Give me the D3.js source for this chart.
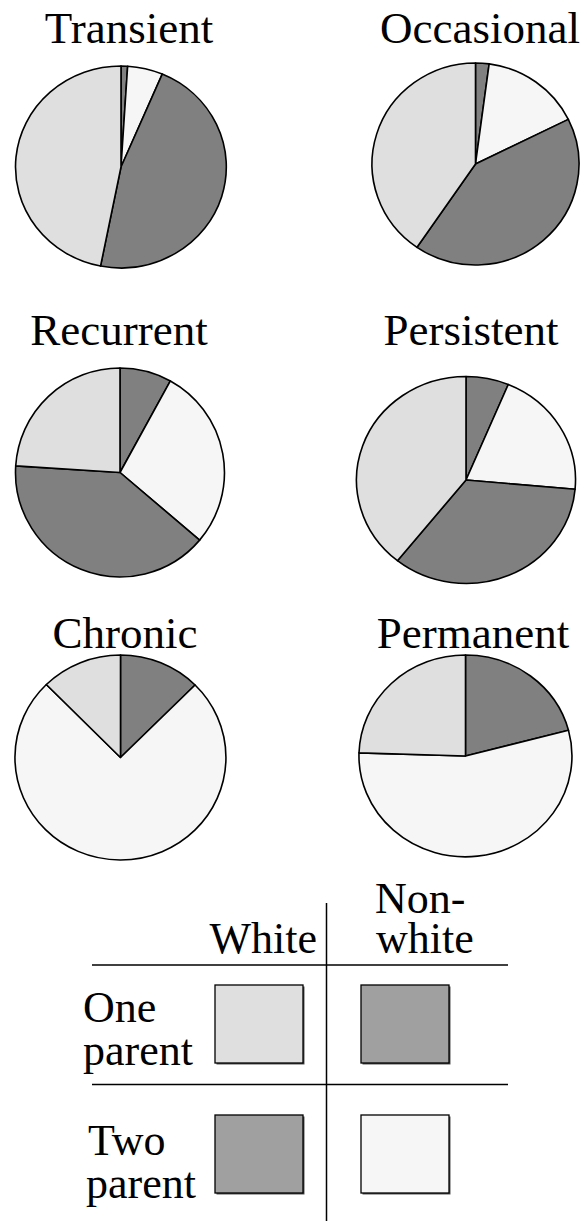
<!DOCTYPE html>
<html><head><meta charset="utf-8">
<script src="https://cdn.jsdelivr.net/npm/d3@7"></script>
</head><body style="margin:0">
<svg id="c" width="587" height="1221"></svg>
<script>
// Data (percent of each group, clockwise from 12 o'clock)
const categories = ["Transient", "Occasional", "Recurrent", "Persistent", "Chronic", "Permanent"];
const oneParentNonwhite = [1.0, 2.1, 8.0, 6.3, 12.5, 20.9];
const twoParentNonwhite = [5.4, 15.6, 28.2, 20.1, 75.1, 54.6];
const twoParentWhite    = [46.7, 41.8, 39.8, 34.3, 0, 0];
const oneParentWhite    = [46.9, 40.4, 24.0, 39.2, 12.4, 24.5];
const seriesNames = ["One parent Non-white", "Two parent Non-white", "Two parent White", "One parent White"];
const legendRows = ["One parent", "Two parent"];
const legendCols = ["White", "Non-white"];

// Layout (not data)
const layout = [
  {cx:121, cy:167, rx:105.5, ry:101, tx:129, ty:43},
  {cx:475.5, cy:164, rx:103.5, ry:101, tx:480, ty:43},
  {cx:120, cy:472.5, rx:104.5, ry:104.5, tx:119, ty:345},
  {cx:466, cy:480, rx:109.5, ry:103.5, tx:471, ty:345},
  {cx:120.5, cy:757.5, rx:105.5, ry:102.5, tx:125, ty:648},
  {cx:465.5, cy:756, rx:106.5, ry:101, tx:473, ty:648}
];
const pieColors = {"One parent Non-white":"#808080","Two parent Non-white":"#f6f6f6","Two parent White":"#808080","One parent White":"#dfdfdf"};
const legendColors = {"One parent|White":"#dfdfdf","One parent|Non-white":"#a0a0a0","Two parent|White":"#a0a0a0","Two parent|Non-white":"#f6f6f6"};
const font = "Liberation Serif";

const svg = d3.select("#c");
svg.append("rect").attr("width", 587).attr("height", 1221).attr("fill", "#fff");
const pie = d3.pie().sort(null).value(d => d.v);
const arc = d3.arc().innerRadius(0).outerRadius(1);

function label(sel, t, x, y, size, anchor) {
  return sel.append("text").attr("x", x).attr("y", y)
    .attr("text-anchor", anchor || "start")
    .style("font-family", font).attr("font-size", size).text(t);
}

categories.forEach((cat, i) => {
  const L = layout[i];
  const vals = [oneParentNonwhite[i], twoParentNonwhite[i], twoParentWhite[i], oneParentWhite[i]]
    .map((v, k) => ({name: seriesNames[k], v}));
  const arcs = pie(vals).filter(a => a.data.v > 0);
  const g = svg.append("g").attr("transform", `translate(${L.cx},${L.cy}) scale(${L.rx},${L.ry})`);
  g.selectAll("path").data(arcs).join("path")
    .attr("d", arc)
    .attr("fill", d => pieColors[d.data.name])
    .attr("stroke", "#000")
    .attr("stroke-width", 1.6)
    .attr("stroke-linejoin", "round")
    .attr("vector-effect", "non-scaling-stroke");
  label(svg, cat, L.tx, L.ty, 45, "middle");
});

// Legend
const lg = svg.append("g");
const colX = d3.scaleOrdinal().domain(legendCols).range([215, 361]);
const rowY = d3.scaleOrdinal().domain(legendRows).range([985, 1115]);
lg.append("line").attr("x1", 326.5).attr("x2", 326.5).attr("y1", 903).attr("y2", 1221).attr("stroke", "#000").attr("stroke-width", 1.5);
[965, 1084.5].forEach(y => lg.append("line").attr("x1", 92).attr("x2", 508).attr("y1", y).attr("y2", y).attr("stroke", "#000").attr("stroke-width", 1.5));

label(lg, "White", 317, 953, 44, "end");
label(lg, "Non-", 375, 913, 44);
label(lg, "white", 376, 953, 44);

const rowLabels = {"One parent": [["One", 83, 1022], ["parent", 83, 1065]], "Two parent": [["Two", 88, 1155], ["parent", 86, 1198]]};
legendRows.forEach(r => {
  rowLabels[r].forEach(([t, x, y]) => label(lg, t, x, y, 44));
  legendCols.forEach(c => {
    const x = colX(c), y = rowY(r);
    lg.append("rect").attr("x", x + 1.5).attr("y", y + 1.5).attr("width", 88).attr("height", 78).attr("fill", "#555");
    lg.append("rect").attr("x", x).attr("y", y).attr("width", 88).attr("height", 78)
      .attr("fill", legendColors[r + "|" + c]).attr("stroke", "#000").attr("stroke-width", 1.3);
  });
});
</script>
</body></html>
